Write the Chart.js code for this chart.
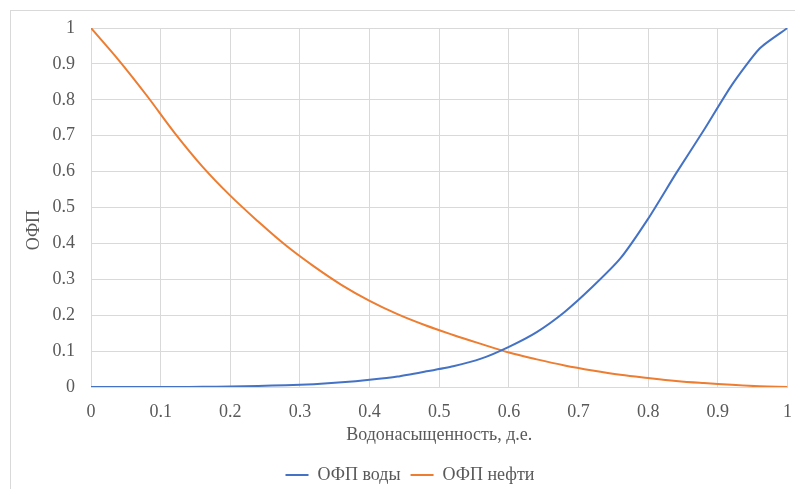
<!DOCTYPE html>
<html>
<head>
<meta charset="utf-8">
<script src="https://cdn.jsdelivr.net/npm/chart.js@4.4.0/dist/chart.umd.min.js"></script>
<style>
  html, body { margin: 0; padding: 0; background: #ffffff; overflow: hidden; width: 795px; height: 489px; }
  #frame { position: absolute; left: 10px; top: 10px; width: 820px; height: 600px; border: 1px solid #d9d9d9; box-sizing: border-box; }
  #wrap { position: absolute; left: 0; top: 0; width: 795px; height: 500px; }
</style>
</head>
<body>
<div id="frame"></div>
<div id="wrap"><canvas id="c" width="795" height="500"></canvas></div>
<script>
// Water saturation (x values)
const saturation = [0, 0.04, 0.08, 0.12, 0.16, 0.2, 0.24, 0.28, 0.32, 0.36, 0.4, 0.44, 0.48, 0.52, 0.56, 0.6, 0.64, 0.68, 0.72, 0.76, 0.8, 0.84, 0.88, 0.92, 0.96, 1];
// Relative permeability of water
const krWater = [0, 0, 0, 0, 0.0005, 0.0015, 0.003, 0.005, 0.008, 0.013, 0.02, 0.029, 0.043, 0.058, 0.079, 0.112, 0.153, 0.209, 0.279, 0.358, 0.469, 0.595, 0.716, 0.841, 0.943, 1];
// Relative permeability of oil
const krOil = [1, 0.91, 0.812, 0.708, 0.614, 0.533, 0.461, 0.394, 0.336, 0.284, 0.24, 0.203, 0.172, 0.145, 0.12, 0.096, 0.077, 0.06, 0.046, 0.034, 0.025, 0.017, 0.011, 0.006, 0.002, 0];

const seriesNames = ['ОФП воды', 'ОФП нефти'];
const xTickLabels = ['0', '0.1', '0.2', '0.3', '0.4', '0.5', '0.6', '0.7', '0.8', '0.9', '1'];
const yTickLabels = ['0', '0.1', '0.2', '0.3', '0.4', '0.5', '0.6', '0.7', '0.8', '0.9', '1'];
const xTitle = 'Водонасыщенность, д.е.';
const yTitle = 'ОФП';

const FONT = "'Liberation Serif', 'Times New Roman', serif";
const TEXT = '#595959';
const GRID = '#d9d9d9';

const toPoints = (ys) => saturation.map((x, i) => ({ x: x, y: ys[i] }));

const yTitlePlugin = {
  id: 'yTitle',
  afterDraw(chart) {
    const ctx = chart.ctx;
    const area = chart.chartArea;
    ctx.save();
    ctx.translate(34, area.top + (area.bottom - area.top) * 0.563);
    ctx.rotate(-Math.PI / 2);
    ctx.font = '18px ' + FONT;
    ctx.fillStyle = TEXT;
    ctx.textAlign = 'center';
    ctx.textBaseline = 'middle';
    ctx.fillText(yTitle, 0, 0);
    ctx.restore();
  }
};

new Chart(document.getElementById('c'), {
  type: 'line',
  data: {
    datasets: [
      {
        label: seriesNames[0],
        data: toPoints(krWater),
        borderColor: '#4472C4',
        backgroundColor: '#4472C4',
        borderWidth: 2,
        pointRadius: 0,
        tension: 0.2,
        fill: false
      },
      {
        label: seriesNames[1],
        data: toPoints(krOil),
        borderColor: '#ED7D31',
        backgroundColor: '#ED7D31',
        borderWidth: 2,
        pointRadius: 0,
        tension: 0.4,
        fill: false
      }
    ]
  },
  options: {
    responsive: false,
    animation: false,
    devicePixelRatio: 1,
    layout: { padding: { top: 28, right: 7, left: 32, bottom: 6 } },
    plugins: {
      tooltip: { enabled: false },
      legend: {
        position: 'bottom',
        labels: {
          font: { family: FONT, size: 18 },
          color: TEXT,
          boxWidth: 23,
          boxHeight: 2,
          padding: 10,
          generateLabels(chart) {
            const items = Chart.defaults.plugins.legend.labels.generateLabels(chart);
            items.forEach(it => { it.fillStyle = it.strokeStyle; it.lineWidth = 0; });
            return items;
          }
        }
      }
    },
    scales: {
      x: {
        type: 'linear',
        min: 0,
        max: 1,
        ticks: {
          stepSize: 0.1,
          padding: 3,
          color: TEXT,
          font: { family: FONT, size: 18 },
          maxRotation: 0,
          callback: (v, i) => xTickLabels[i]
        },
        grid: { color: GRID, lineWidth: 1, drawTicks: true, tickLength: 11, tickColor: 'rgba(0,0,0,0)' },
        border: { color: GRID },
        title: {
          display: true,
          text: xTitle,
          color: TEXT,
          font: { family: FONT, size: 18 },
          padding: { top: 0, bottom: 10 }
        },
        afterFit(scale) { scale.height = 69; }
      },
      y: {
        type: 'linear',
        min: 0,
        max: 1,
        ticks: {
          stepSize: 0.1,
          padding: 16,
          color: TEXT,
          font: { family: FONT, size: 18 },
          callback: (v, i) => yTickLabels[i]
        },
        grid: { color: GRID, lineWidth: 1, drawTicks: false },
        border: { color: GRID },
        afterFit(scale) { scale.width = 59; }
      }
    }
  },
  plugins: [yTitlePlugin]
});
</script>
</body>
</html>
